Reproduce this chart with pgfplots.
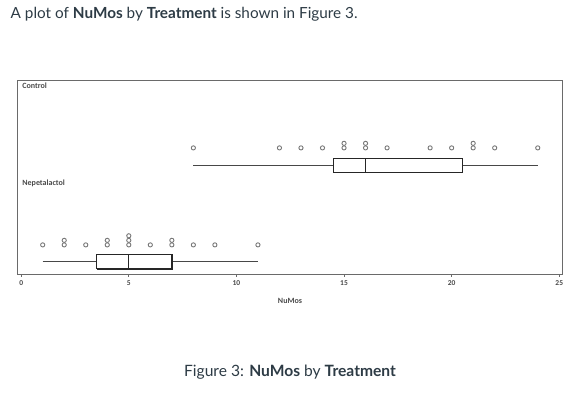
\documentclass[border=0pt]{standalone}
\usepackage{pgfplots}
\pgfplotsset{compat=1.18}
\usepackage{fontspec}
\setmainfont{Lato}
\newfontfamily\chartfont{Carlito}
\definecolor{txt}{HTML}{2D3B45}
\definecolor{frm}{HTML}{6A6A6A}
\definecolor{pts}{HTML}{777777}
\definecolor{lbl}{HTML}{4A4A4A}
\begin{document}
\begin{tikzpicture}
\path[use as bounding box] (0pt,0pt) rectangle (580pt,395pt);
\node[anchor=base west,inner sep=0pt,text=txt,font=\fontsize{15.3}{18}\selectfont] at (10.5pt,376.7pt) {A plot of \textbf{NuMos} by \textbf{Treatment} is shown in Figure 3.};
\node[anchor=base,inner sep=0pt,text=txt,font=\fontsize{15.6}{18}\selectfont] at (290pt,18.3pt) {Figure 3: \textbf{NuMos} by \textbf{Treatment}};
\begin{axis}[
  at={(17.3pt,121pt)}, anchor=south west,
  scale only axis, width=545.4pt, height=194pt,
  xmin=-0.18, xmax=25.16, ymin=0, ymax=2,
  xtick={0,5,...,25}, ytick=\empty,
  tick align=outside, major tick length=3pt,
  xtick pos=bottom,
  axis line style={frm, line width=0.9pt},
  every tick/.style={frm, line width=0.7pt},
  tick label style={font=\chartfont\fontsize{7.5}{8}\selectfont\bfseries, text=lbl},
  /pgf/number format/assume math mode=true,
  xlabel={NuMos},
  xlabel style={font=\chartfont\fontsize{8}{9}\selectfont\bfseries, text=lbl, at={(axis description cs:0.5,0)}, anchor=north, yshift=-21pt},
  clip=false,
]
% whiskers
\addplot[pts!60!black, line width=0.7pt] coordinates {(1,0.127) (3.5,0.127)};
\addplot[pts!60!black, line width=0.7pt] coordinates {(7,0.127) (11,0.127)};
\addplot[pts!60!black, line width=0.7pt] coordinates {(8,1.118) (14.5,1.118)};
\addplot[pts!60!black, line width=0.7pt] coordinates {(20.5,1.118) (24,1.118)};
% boxes
\addplot[black!85, line width=1.4pt] coordinates {(3.5,0.050) (7,0.050) (7,0.200) (3.5,0.200) (3.5,0.050)};
\addplot[black!85, line width=1.4pt] coordinates {(5,0.050) (5,0.200)};
\addplot[black!85, line width=1.4pt] coordinates {(14.5,1.044) (20.5,1.044) (20.5,1.193) (14.5,1.193) (14.5,1.044)};
\addplot[black!85, line width=1.4pt] coordinates {(16,1.044) (16,1.193)};
% points
\addplot[only marks, mark=o, mark size=2.1pt, mark options={pts, line width=0.9pt}] coordinates {
(1,0.30) (2,0.30) (2,0.347) (3,0.30) (4,0.30) (4,0.347) (5,0.30) (5,0.347) (5,0.394)
(6,0.30) (7,0.30) (7,0.347) (8,0.30) (9,0.30) (11,0.30)};
\addplot[only marks, mark=o, mark size=2.1pt, mark options={pts, line width=0.9pt}] coordinates {
(8,1.30) (12,1.30) (13,1.30) (14,1.30) (15,1.30) (15,1.347) (16,1.30) (16,1.347)
(17,1.30) (19,1.30) (20,1.30) (21,1.30) (21,1.347) (22,1.30) (24,1.30)};
\node[anchor=west, inner sep=0pt, font=\chartfont\fontsize{8}{9}\selectfont\bfseries, text=lbl] at (axis description cs:0.009,0.972) {Control};
\node[anchor=west, inner sep=0pt, font=\chartfont\fontsize{8}{9}\selectfont\bfseries, text=lbl] at (axis description cs:0.009,0.469) {Nepetalactol};
\end{axis}
\end{tikzpicture}
\end{document}
